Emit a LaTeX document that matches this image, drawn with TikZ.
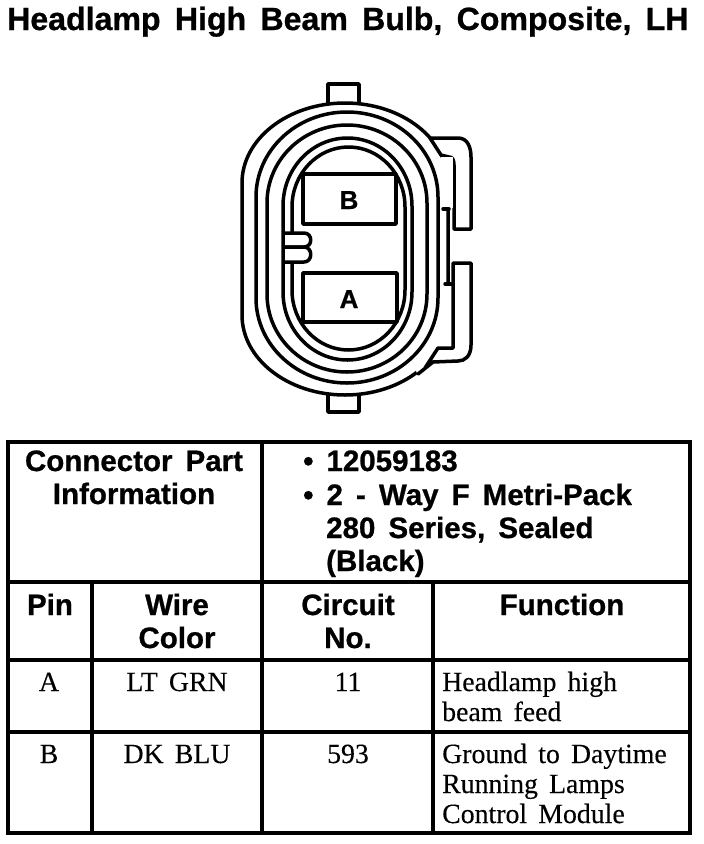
\documentclass[tikz,border=0pt]{standalone}
\usepackage{fontspec}
\setmainfont{Liberation Serif}[WordSpace=1.6,FakeBold=0.25]
\newfontfamily\hdfont{Liberation Sans}[WordSpace=1.6,BoldFeatures={FakeBold=0.8}]
\tikzset{
  x=1pt,y=-1pt,
  ink/.style={line width=3.5pt,line join=round,line cap=round},
  grid/.style={line width=3.4pt,line cap=rect},
  title/.style={inner sep=0,anchor=base west,font=\hdfont\bfseries\fontsize{32.1}{33}\selectfont},
  head/.style={inner sep=0,anchor=base,font=\hdfont\bfseries\fontsize{29.5}{33}\selectfont},
  headl/.style={head,anchor=base west},
  body/.style={inner sep=0,anchor=base,font=\fontsize{27.8}{30}\selectfont},
  bodyl/.style={body,anchor=base west},
  pinlabel/.style={inner sep=0,anchor=base,font=\hdfont\bfseries\fontsize{26}{28}\selectfont},
}
% left, right, top, bottom, curve height
\newcommand{\ringshape}[5]{%
  \pgfmathsetmacro{\rxval}{(#2-#1)/2}%
  \draw[ink] (#1,#3+#5) arc[start angle=180,end angle=360,x radius=\rxval,y radius=#5]
    -- (#2,#4-#5) arc[start angle=0,end angle=180,x radius=\rxval,y radius=#5] -- cycle;}
\begin{document}
\begin{tikzpicture}
\useasboundingbox (0,0) rectangle (704,844);
\fill[white] (0,0) rectangle (704,844);

\node[title] (ttl) at (7,30) {Headlamp High Beam Bulb, Composite, LH};

% tabs
\draw[ink] (328,103) -- (328,84) -- (359,84) -- (359,103);
\draw[ink] (328,395) -- (328,412) -- (359,412) -- (359,395);

% outer ring, interrupted by the two latches
\ringshape{242}{448}{103}{395}{80}
\fill[white] (438,284) -- (460,284) -- (460,364) -- (433,364) -- (418,376) -- (412,360) -- cycle;
\draw[ink,fill=white] (430,138) -- (458,138) .. controls (468,138) and (471,148) .. (471,157)
   -- (471,229) -- (454,229) -- (454,165) .. controls (454,159) and (452,157) .. (449,157)
   -- (441,155) -- cycle;
\fill[white] (441,157) rectangle (453,208);
\draw[ink] (443,209) -- (449,209);
\draw[ink] (445,284) -- (452,284);
\draw[ink,fill=white] (425,368) -- (438,348) -- (453,348) -- (453,263) -- (471,263) -- (471,345)
   .. controls (471,356) and (465,361) .. (458,361) -- (433,362) -- (418,374);

\ringshape{256}{438}{112}{383}{85}
\ringshape{267}{427}{125}{372}{78}
\ringshape{283}{412}{138}{360}{68}
\ringshape{292}{405}{147}{350}{60}

% key
\fill[white] (286,233) rectangle (306,262);
\draw[ink,fill=white] (285,233) -- (304,233) .. controls (313,233) and (313,247) .. (304,247) -- (285,247);
\draw[ink,fill=white] (285,247) -- (304,247) .. controls (313,247) and (313,262) .. (304,262) -- (285,262);

% pin cavities
\draw[ink,fill=white] (303,174) rectangle (396,224);
\draw[ink,fill=white] (303,273) rectangle (397,322);
\node[pinlabel] (pinb) at (349,209) {B};
\node[pinlabel] (pina) at (349,308) {A};

% table
\draw[grid] (8,442) rectangle (690,833);
\draw[grid] (8,582) -- (690,582);
\draw[grid] (8,660) -- (690,660);
\draw[grid] (8,732) -- (690,732);
\draw[grid] (262,442) -- (262,833);
\draw[grid] (92,582) -- (92,833);
\draw[grid] (433,582) -- (433,833);

\node[head] (c1) at (134,471) {Connector Part};
\node[head] (c2) at (134,504) {Information};
\node[headl] (p1) at (303,471) {•\hspace{13pt}12059183};
\node[headl] (p2) at (303,505) {•\hspace{13pt}2 - Way F Metri-Pack};
\node[headl] (p3) at (326,538) {280 Series, Sealed};
\node[headl] (p4) at (326,571) {(Black)};

\node[head] (h1) at (50,615) {Pin};
\node[head] (h2) at (177,615) {Wire};
\node[head] (h2b) at (177,648) {Color};
\node[head] (h3) at (348,615) {Circuit};
\node[head] (h3b) at (348,648) {No.};
\node[head] (h4) at (562,615) {Function};

\node[body] (ra1) at (49,691) {A};
\node[body] (ra2) at (177,691) {LT GRN};
\node[body] (ra3) at (348,691) {11};
\node[bodyl] (ra4) at (442,691) {Headlamp high};
\node[bodyl] (ra5) at (442,721) {beam feed};

\node[body] (rb1) at (49,763) {B};
\node[body] (rb2) at (177,763) {DK BLU};
\node[body] (rb3) at (348,763) {593};
\node[bodyl] (rb4) at (442,763) {Ground to Daytime};
\node[bodyl] (rb5) at (442,793) {Running Lamps};
\node[bodyl] (rb6) at (442,823) {Control Module};
\end{tikzpicture}
\end{document}
